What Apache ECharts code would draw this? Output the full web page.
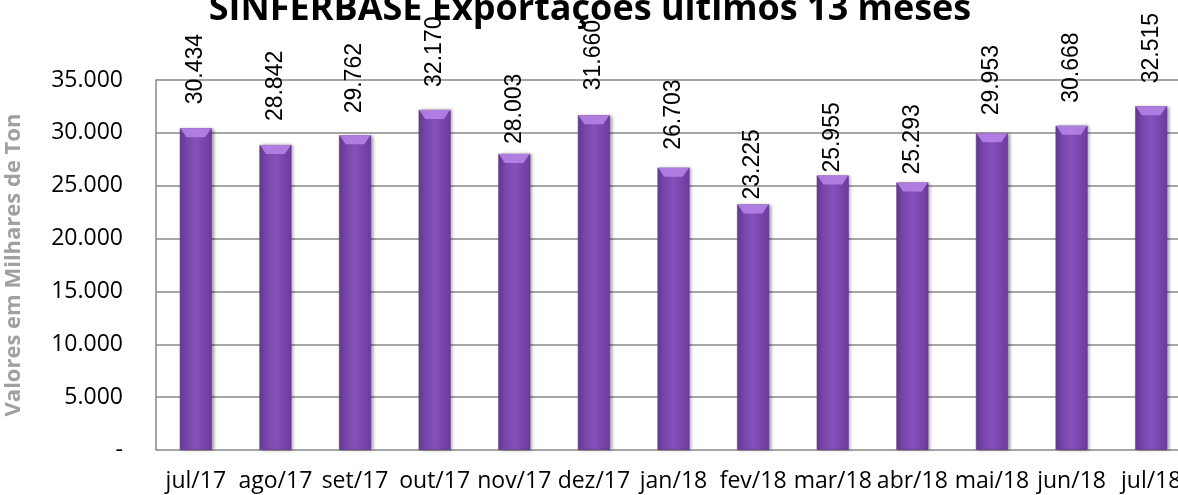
<!DOCTYPE html>
<html>
<head>
<meta charset="utf-8">
<script src="https://cdn.jsdelivr.net/npm/echarts@6/dist/echarts.min.js"></script>
<style>
html,body{margin:0;padding:0;background:#fff;}
#grafico{width:1178px;height:495px;}
</style>
</head>
<body>
<div id="grafico"></div>
<script>
var meses = ['jul/17','ago/17','set/17','out/17','nov/17','dez/17','jan/18','fev/18','mar/18','abr/18','mai/18','jun/18','jul/18'];
var exportacoes = [30434, 28842, 29762, 32170, 28003, 31660, 26703, 23225, 25955, 25293, 29953, 30668, 32515];
var ticksY = [0, 5000, 10000, 15000, 20000, 25000, 30000, 35000];
// distancia do rotulo ao topo de cada barra (como no Excel original)
var distRotulo = [24, 24, 22, 23, 10, 25, 18, 5, 3, 8, 18, 23, 23];

var myChart = echarts.init(document.getElementById('grafico'));

// formato brasileiro: 30.434
function fmt(v){
	if(v === 0) return '-';
	return String(v).replace(/\B(?=(\d{3})+(?!\d))/g, '.');
}

var dadosBarras = [];
for(var i = 0; i < exportacoes.length; i++){
	dadosBarras.push({value: exportacoes[i], label: {distance: distRotulo[i]}});
}

var option = {
	backgroundColor: '#fff',
	animation: false,
	title: {
		text: 'SINFERBASE Exportações últimos 13 meses',
		left: 585, textAlign: 'center', top: -13,
		textStyle: {fontFamily: 'Open Sans', fontWeight: 'bold', fontSize: 36, color: '#000'}
	},
	grid: {left: 156, right: -13, top: 80, bottom: 45, outerBoundsMode: 'none'},
	xAxis: {
		type: 'category',
		data: meses,
		axisLine: {show: false},
		axisTick: {show: false},
		axisLabel: {fontFamily: 'Open Sans', fontSize: 23, color: '#000', margin: 20, interval: 0}
	},
	yAxis: {
		type: 'value',
		min: ticksY[0], max: ticksY[ticksY.length - 1], interval: 5000,
		name: 'Valores em Milhares de Ton',
		nameLocation: 'middle', nameGap: 131, nameRotate: 90,
		nameTextStyle: {fontFamily: 'Open Sans', fontWeight: 'bold', fontSize: 22, color: '#a0a0a0'},
		axisLine: {show: true, lineStyle: {color: '#888', width: 1.5}},
		axisTick: {show: false},
		splitLine: {lineStyle: {color: '#888', width: 1.5}},
		axisLabel: {fontFamily: 'Open Sans', fontSize: 23, color: '#000', margin: 33, formatter: fmt}
	},
	series: [{
		type: 'bar',
		data: dadosBarras,
		barWidth: 32,
		itemStyle: {
			color: new echarts.graphic.LinearGradient(0, 0, 1, 0, [
				{offset: 0, color: '#6b3b9c'},
				{offset: 0.5, color: '#8552bd'},
				{offset: 1, color: '#6b3b9c'}
			]),
			borderColor: '#5e3389', borderWidth: 0.5,
			shadowColor: 'rgba(0,0,0,0.35)', shadowBlur: 3, shadowOffsetX: 2
		},
		label: {
			show: true, position: 'top', rotate: 90, align: 'left', verticalAlign: 'middle',
			fontFamily: 'Liberation Sans', fontSize: 23, color: '#000',
			formatter: function(p){ return fmt(p.value); }
		},
		z: 2
	}, {
		// chanfro claro no topo da barra
		type: 'pictorialBar',
		data: exportacoes,
		symbol: 'path://M0,0 L10,0 L8,3 L2,3 Z',
		symbolSize: [31, 9],
		symbolPosition: 'end',
		symbolOffset: [0, 0],
		itemStyle: {color: '#b583e6', opacity: 0.9},
		silent: true,
		z: 3
	}]
};
myChart.setOption(option);
</script>
</body>
</html>
